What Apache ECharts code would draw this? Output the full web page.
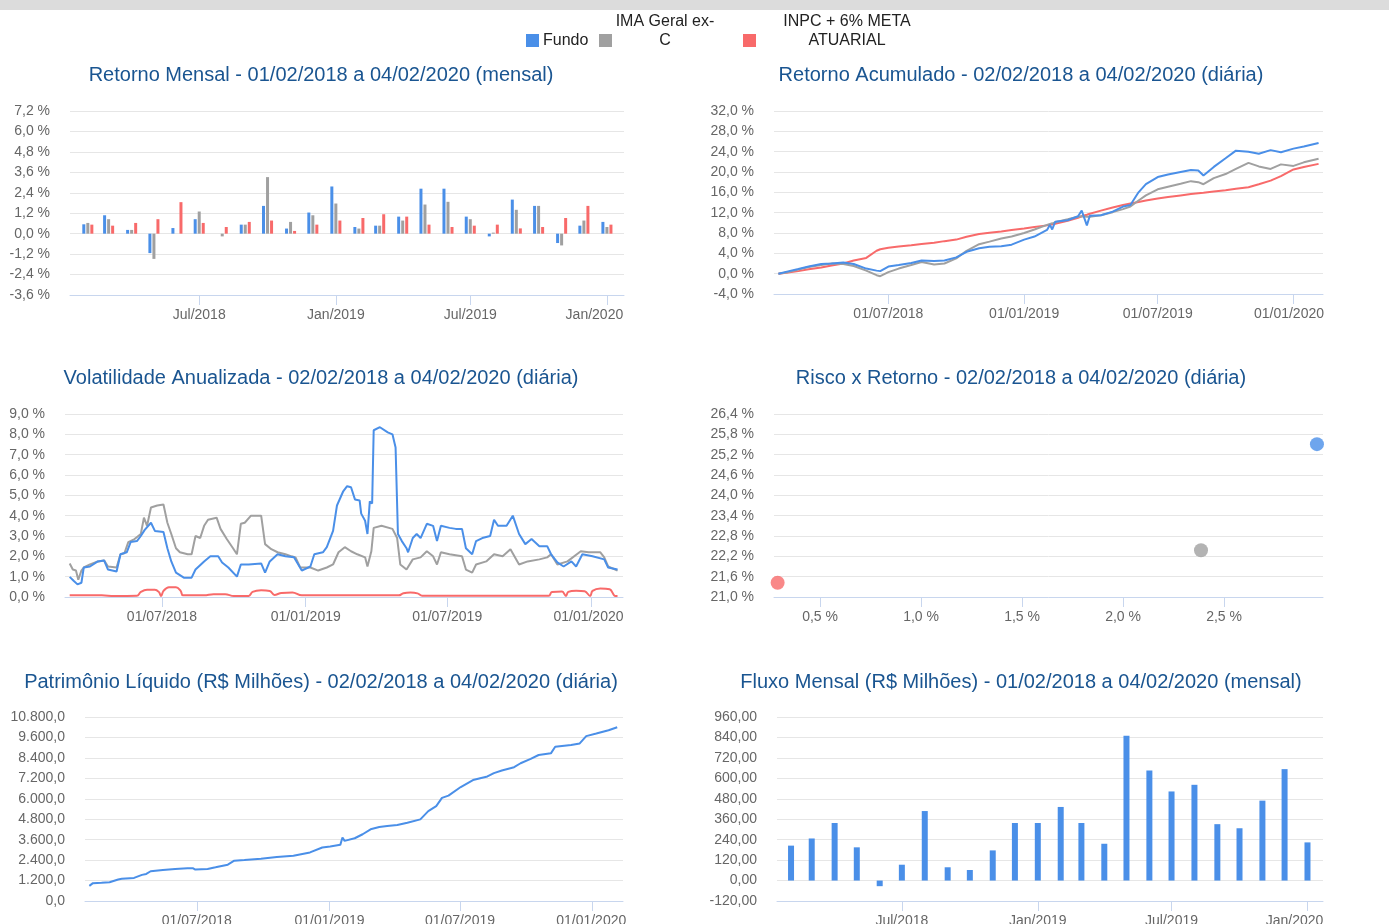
<!DOCTYPE html>
<html lang="pt-BR">
<head>
<meta charset="utf-8">
<title>Fundo - Painel de desempenho</title>
<script src="https://cdn.jsdelivr.net/npm/echarts@6/dist/echarts.min.js"></script>
<style>
    html, body { margin: 0; padding: 0; background: #fff; }
    #painel { width: 1389px; height: 924px; }
</style>
</head>
<body>
<div id="painel"></div>
<script type="text/javascript">
    // ---- dados ----
    var meses = ['2018-02-01', '2018-03-01', '2018-04-01', '2018-05-01', '2018-06-01', '2018-07-01',
        '2018-08-01', '2018-09-01', '2018-10-01', '2018-11-01', '2018-12-01', '2019-01-01',
        '2019-02-01', '2019-03-01', '2019-04-01', '2019-05-01', '2019-06-01', '2019-07-01',
        '2019-08-01', '2019-09-01', '2019-10-01', '2019-11-01', '2019-12-01', '2020-01-01'];
    var mensalFundo = [0.55, 1.08, 0.22, -1.14, 0.33, 0.85, 0, 0.53, 1.63, 0.3, 1.24, 2.77,
        0.39, 0.47, 1.0, 2.64, 2.64, 1.0, -0.16, 2.0, 1.63, -0.55, 0.47, 0.69];
    var mensalIma = [0.63, 0.85, 0.22, -1.48, 0, 1.3, -0.16, 0.53, 3.32, 0.69, 1.08, 1.77,
        0.3, 0.47, 0.77, 1.71, 1.87, 0.85, 0.06, 1.4, 1.63, -0.69, 0.77, 0.39];
    var mensalInpc = [0.53, 0.47, 0.63, 0.85, 1.85, 0.63, 0.39, 0.69, 0.77, 0.16, 0.53, 0.77,
        0.92, 1.14, 1.0, 0.53, 0.39, 0.47, 0.53, 0.31, 0.39, 0.92, 1.63, 0.53];

    var acumDatas = ['2018-02-02', '2018-02-15', '2018-03-01', '2018-03-15', '2018-04-01', '2018-04-15',
        '2018-05-01', '2018-05-15', '2018-06-01', '2018-06-15', '2018-06-20', '2018-07-01', '2018-07-15',
        '2018-08-01', '2018-08-15', '2018-09-01', '2018-09-15', '2018-10-01', '2018-10-15', '2018-11-01',
        '2018-11-15', '2018-12-01', '2018-12-15',
        '2019-01-01', '2019-01-15', '2019-02-01', '2019-02-05', '2019-02-08', '2019-02-12', '2019-03-01',
        '2019-03-15', '2019-03-20', '2019-03-27', '2019-03-31', '2019-04-15', '2019-05-01', '2019-05-15',
        '2019-05-25', '2019-06-05', '2019-06-15', '2019-07-01', '2019-07-15', '2019-08-01', '2019-08-15',
        '2019-08-25', '2019-09-01', '2019-09-15', '2019-10-01', '2019-10-15', '2019-11-01', '2019-11-15',
        '2019-12-01', '2019-12-15',
        '2020-01-01', '2020-01-15', '2020-02-04'];
    var acumFundo = [0.0, 0.45, 0.9, 1.4, 1.9, 2.0, 2.2, 1.9, 1.0, 0.6, 0.5, 1.4, 1.7, 2.1, 2.6, 2.5, 2.6,
        3.2, 4.3, 5.0, 5.3, 5.4, 5.7,
        6.7, 7.3, 8.6, 9.6, 8.7, 10.2, 10.5, 11.3, 12.4, 9.5, 11.4, 11.5, 12.2, 13.2, 13.5, 16.0, 17.6,
        19.0, 19.5, 20.0, 20.4, 20.3, 19.3, 21.0, 22.7, 24.2, 24.0, 23.6, 24.3, 23.9,
        24.6, 25.0, 25.7];
    var acumIma = [0.0, 0.3, 0.8, 1.3, 1.7, 2.0, 1.9, 1.5, 0.6, -0.3, -0.5, 0.3, 1.0, 1.7, 2.3, 1.8, 2.0,
        3.0, 4.5, 5.8, 6.3, 6.9, 7.3,
        8.0, 8.7, 9.6, 9.8, 9.9, 10.1, 10.7, 11.2, 11.3, 11.2, 11.2, 11.5, 12.1, 12.7, 13.2, 14.4, 15.4,
        16.6, 17.1, 17.7, 18.2, 18.0, 17.6, 18.8, 19.6, 20.6, 21.8, 21.1, 20.6, 21.5,
        21.2, 21.9, 22.6];
    var acumInpc = [0.0, 0.25, 0.5, 0.85, 1.2, 1.6, 2.0, 2.6, 3.1, 4.5, 4.8, 5.1, 5.35, 5.6, 5.85, 6.1, 6.4,
        6.7, 7.25, 7.8, 8.05, 8.3, 8.6,
        8.9, 9.2, 9.5, 9.6, 9.7, 9.8, 10.4, 11.0, 11.3, 11.6, 11.8, 12.4, 13.0, 13.5, 13.8, 14.1, 14.4,
        14.8, 15.1, 15.4, 15.65, 15.8, 15.9, 16.15, 16.4, 16.7, 17.0, 17.6, 18.3, 19.2,
        20.5, 21.0, 21.6];

    var volFundo = [['2018-03-05', 0.99], ['2018-03-10', 0.8], ['2018-03-15', 0.62], ['2018-03-20', 0.7],
        ['2018-03-23', 1.45], ['2018-03-31', 1.5], ['2018-04-10', 1.75], ['2018-04-18', 1.8], ['2018-04-23', 1.35],
        ['2018-05-04', 1.25], ['2018-05-09', 2.1], ['2018-05-17', 2.2], ['2018-05-22', 2.7], ['2018-05-30', 2.75],
        ['2018-06-04', 3.0], ['2018-06-09', 3.3], ['2018-06-17', 3.65], ['2018-06-22', 3.25], ['2018-07-03', 3.2],
        ['2018-07-08', 2.4], ['2018-07-13', 1.75], ['2018-07-19', 1.2], ['2018-07-29', 0.95], ['2018-08-08', 0.95],
        ['2018-08-13', 1.35], ['2018-08-24', 1.75], ['2018-09-01', 2.0], ['2018-09-11', 2.0], ['2018-09-16', 1.7],
        ['2018-09-24', 1.45], ['2018-10-05', 1.0], ['2018-10-10', 1.6], ['2018-10-20', 1.6], ['2018-11-05', 1.65],
        ['2018-11-10', 1.2], ['2018-11-16', 1.75], ['2018-11-26', 2.1], ['2018-12-06', 2.0], ['2018-12-17', 1.95],
        ['2018-12-27', 1.3], ['2019-01-07', 1.5], ['2019-01-12', 2.1], ['2019-01-23', 2.2], ['2019-01-28', 2.45],
        ['2019-02-05', 3.25], ['2019-02-10', 4.5], ['2019-02-18', 5.2], ['2019-02-23', 5.45], ['2019-02-28', 5.4],
        ['2019-03-05', 4.8], ['2019-03-11', 4.75], ['2019-03-13', 4.1], ['2019-03-18', 3.75], ['2019-03-21', 3.1],
        ['2019-03-24', 4.7], ['2019-03-27', 4.6], ['2019-03-29', 8.2], ['2019-04-06', 8.35], ['2019-04-16', 8.1],
        ['2019-04-22', 8.0], ['2019-04-26', 7.35], ['2019-04-29', 3.1], ['2019-05-04', 2.75], ['2019-05-10', 2.4],
        ['2019-05-12', 2.2], ['2019-05-18', 2.9], ['2019-05-23', 3.1], ['2019-05-28', 2.9], ['2019-06-05', 3.6],
        ['2019-06-13', 3.5], ['2019-06-18', 2.75], ['2019-06-23', 3.5], ['2019-07-04', 3.4], ['2019-07-12', 3.35],
        ['2019-07-20', 3.35], ['2019-07-25', 2.4], ['2019-08-02', 2.1], ['2019-08-07', 2.75], ['2019-08-15', 2.9],
        ['2019-08-25', 3.0], ['2019-08-30', 3.8], ['2019-09-04', 3.5], ['2019-09-15', 3.5], ['2019-09-23', 4.0],
        ['2019-10-01', 3.1], ['2019-10-09', 2.6], ['2019-10-17', 2.85], ['2019-10-27', 2.5], ['2019-11-06', 2.5],
        ['2019-11-11', 2.1], ['2019-11-19', 1.7], ['2019-11-27', 1.5], ['2019-12-07', 1.75], ['2019-12-13', 1.5],
        ['2019-12-21', 2.1], ['2020-01-03', 2.0], ['2020-01-18', 1.85], ['2020-01-23', 1.45], ['2020-02-04', 1.35]];
    var volIma = [['2018-03-05', 1.65], ['2018-03-09', 1.35], ['2018-03-13', 1.3], ['2018-03-16', 0.85],
        ['2018-03-20', 1.3], ['2018-03-23', 1.45], ['2018-03-31', 1.6], ['2018-04-10', 1.75], ['2018-04-18', 1.8],
        ['2018-04-23', 1.5], ['2018-05-04', 1.45], ['2018-05-09', 2.1], ['2018-05-14', 2.15], ['2018-05-19', 2.7],
        ['2018-05-27', 2.85], ['2018-06-04', 3.1], ['2018-06-08', 3.9], ['2018-06-12', 3.5], ['2018-06-17', 4.4],
        ['2018-06-25', 4.5], ['2018-07-03', 4.55], ['2018-07-08', 3.65], ['2018-07-13', 3.1], ['2018-07-19', 2.4],
        ['2018-07-24', 2.2], ['2018-08-03', 2.1], ['2018-08-08', 2.1], ['2018-08-13', 3.0], ['2018-08-19', 2.9],
        ['2018-08-24', 3.5], ['2018-08-29', 3.8], ['2018-09-09', 3.9], ['2018-09-14', 3.35], ['2018-09-22', 2.85],
        ['2018-09-30', 2.4], ['2018-10-05', 2.1], ['2018-10-10', 3.6], ['2018-10-15', 3.65], ['2018-10-23', 4.0],
        ['2018-11-05', 4.0], ['2018-11-10', 2.6], ['2018-11-18', 2.35], ['2018-11-26', 2.2], ['2018-12-06', 2.1],
        ['2018-12-14', 2.0], ['2018-12-19', 1.95], ['2018-12-25', 1.45], ['2019-01-07', 1.45], ['2019-01-17', 1.3],
        ['2019-01-28', 1.45], ['2019-02-05', 1.6], ['2019-02-12', 2.2], ['2019-02-20', 2.45], ['2019-02-28', 2.25],
        ['2019-03-08', 2.1], ['2019-03-18', 1.95], ['2019-03-21', 1.5], ['2019-03-26', 2.25], ['2019-03-29', 3.4],
        ['2019-04-08', 3.5], ['2019-04-22', 3.35], ['2019-04-28', 2.9], ['2019-05-02', 1.6], ['2019-05-10', 1.35],
        ['2019-05-18', 1.85], ['2019-05-28', 1.95], ['2019-06-05', 2.25], ['2019-06-13', 2.0], ['2019-06-18', 1.6],
        ['2019-06-23', 2.2], ['2019-07-04', 2.1], ['2019-07-20', 2.0], ['2019-07-25', 1.35], ['2019-08-02', 1.2],
        ['2019-08-07', 1.6], ['2019-08-20', 1.75], ['2019-08-30', 2.1], ['2019-09-10', 2.0], ['2019-09-20', 2.35],
        ['2019-10-01', 1.6], ['2019-10-12', 1.75], ['2019-10-27', 1.85], ['2019-11-06', 1.95], ['2019-11-11', 2.1],
        ['2019-11-19', 1.6], ['2019-12-02', 1.75], ['2019-12-19', 2.25], ['2019-12-29', 2.2], ['2020-01-13', 2.2],
        ['2020-01-18', 1.95], ['2020-01-23', 1.5], ['2020-02-04', 1.3]];
    var volInpc = [['2018-03-05', 0.08], ['2018-04-15', 0.08], ['2018-05-01', 0.05], ['2018-05-30', 0.06],
        ['2018-06-04', 0.25], ['2018-06-12', 0.36], ['2018-06-22', 0.36], ['2018-06-27', 0.25], ['2018-06-30', 0.05],
        ['2018-07-03', 0.3], ['2018-07-10', 0.48], ['2018-07-19', 0.48], ['2018-07-25', 0.3], ['2018-07-28', 0.08],
        ['2018-08-24', 0.08], ['2018-09-05', 0.14], ['2018-09-20', 0.14], ['2018-10-01', 0.05], ['2018-10-20', 0.05],
        ['2018-10-25', 0.25], ['2018-11-05', 0.33], ['2018-11-16', 0.3], ['2018-11-22', 0.1], ['2018-12-01', 0.2],
        ['2018-12-15', 0.22], ['2018-12-27', 0.08], ['2019-04-30', 0.08], ['2019-05-06', 0.18], ['2019-05-15', 0.22],
        ['2019-05-24', 0.18], ['2019-05-30', 0.06], ['2019-11-08', 0.06], ['2019-11-12', 0.25], ['2019-11-25', 0.27],
        ['2019-11-30', 0.05], ['2019-12-03', 0.25], ['2019-12-13', 0.31], ['2019-12-24', 0.28], ['2019-12-31', 0.05],
        ['2020-01-03', 0.3], ['2020-01-13', 0.42], ['2020-01-25', 0.38], ['2020-02-01', 0.05], ['2020-02-04', 0.05]];

    var riscoNomes = ['Fundo', 'IMA Geral ex-C', 'INPC + 6% META ATUARIAL'];
    var riscoVol = [2.96, 2.386, 0.29];
    var riscoRet = [25.51, 22.38, 21.42];

    var plFundo = [['2018-02-02', 890], ['2018-02-07', 1047], ['2018-02-19', 1066], ['2018-03-02', 1105],
        ['2018-03-14', 1260], ['2018-03-19', 1300], ['2018-04-05', 1357], ['2018-04-16', 1532], ['2018-04-22', 1590],
        ['2018-04-28', 1745], ['2018-05-15', 1823], ['2018-06-01', 1880], ['2018-06-18', 1920], ['2018-06-26', 1920],
        ['2018-06-29', 1842], ['2018-07-16', 1880], ['2018-07-27', 1978], ['2018-08-13', 2133], ['2018-08-22', 2366],
        ['2018-09-05', 2404], ['2018-09-28', 2482], ['2018-10-20', 2580], ['2018-11-12', 2656], ['2018-12-05', 2850],
        ['2018-12-22', 3141], ['2019-01-02', 3200], ['2019-01-16', 3296], ['2019-01-19', 3723], ['2019-01-22', 3530],
        ['2019-02-05', 3684], ['2019-02-16', 3917], ['2019-02-27', 4208], ['2019-03-11', 4343], ['2019-03-22', 4402],
        ['2019-04-05', 4460], ['2019-04-19', 4595], ['2019-05-07', 4790], ['2019-05-18', 5274], ['2019-05-29', 5565],
        ['2019-06-06', 6050], ['2019-06-15', 6185], ['2019-07-02', 6690], ['2019-07-19', 7097], ['2019-08-08', 7310],
        ['2019-08-17', 7504], ['2019-08-28', 7659], ['2019-09-14', 7853], ['2019-09-23', 8086], ['2019-10-07', 8338],
        ['2019-10-18', 8570], ['2019-11-04', 8667], ['2019-11-10', 9055], ['2019-12-02', 9152], ['2019-12-14', 9250],
        ['2019-12-23', 9676], ['2020-01-06', 9831], ['2020-01-23', 10025], ['2020-02-04', 10200]];

    var fluxoMensal = [205, 247, 338, 195, -33, 93, 408, 78, 62, 177, 338, 338,
        432, 338, 216, 850, 646, 523, 562, 331, 307, 469, 654, 224];

    var marcasMes = ['2018-07-01', '2019-01-01', '2019-07-01', '2020-01-01'];
    var marcasRisco = [0.5, 1.0, 1.5, 2.0, 2.5];
    // ---- /dados ----

    var AZUL = '#4a8fe8', CINZA = '#a0a0a0', VERMELHO = '#f86a6a';
    var TITULO = '#1a5591', ROTULO = '#666666', FONTE = '"Liberation Sans", Arial, sans-serif';
    var nomesMes = ['Jan', 'Fev', 'Mar', 'Abr', 'Mai', 'Jun', 'Jul', 'Ago', 'Set', 'Out', 'Nov', 'Dez'];

    function ts(s) {
        var p = s.split('-');
        return new Date(+p[0], +p[1] - 1, +p[2]).getTime();
    }
    function dois(n) { return (n < 10 ? '0' : '') + n; }
    function fmtMes(v) { var d = new Date(v); return nomesMes[d.getMonth()] + '/' + d.getFullYear(); }
    function fmtDia(v) { var d = new Date(v); return dois(d.getDate()) + '/' + dois(d.getMonth() + 1) + '/' + d.getFullYear(); }
    function fmtPct(v) { return v.toFixed(1).replace('.', ',') + ' %'; }
    function fmtMil(v) { return Math.round(v).toString().replace(/\B(?=(\d{3})+(?!\d))/g, '.') + ',0'; }
    function fmtFluxo(v) { return v.toFixed(2).replace('.', ','); }

    var marcas = marcasMes.map(ts);
    var ultima = marcas[marcas.length - 1];

    // eixo de datas: eixo de valores com timestamps e marcas fixas
    function eixoTempo(grid, ini, fim, fmt, folga) {
        return {
            type: 'value', gridIndex: grid, min: ts(ini), max: ts(fim), scale: true,
            axisLine: {onZero: false, lineStyle: {color: '#c8d6ee'}},
            axisTick: {show: true, length: 10, customValues: marcas, lineStyle: {color: '#c8d6ee'}},
            axisLabel: {
                customValues: marcas, margin: 13, color: ROTULO, fontSize: 14, fontFamily: FONTE,
                formatter: function (v) {
                    var s = fmt(v);
                    return v === ultima ? '{e|' + s + '}' : s;
                },
                rich: {e: {padding: [0, folga, 0, 0], color: ROTULO, fontSize: 14, fontFamily: FONTE}}
            },
            splitLine: {show: false}
        };
    }
    function eixoValor(grid, min, max, passo, fmt) {
        return {
            type: 'value', gridIndex: grid, min: min, max: max, interval: passo,
            axisLine: {show: false}, axisTick: {show: false},
            axisLabel: {margin: 20, color: ROTULO, fontSize: 14, fontFamily: FONTE, formatter: fmt},
            splitLine: {lineStyle: {color: '#e6e6e6'}}
        };
    }
    function titulo(x, y, texto) {
        return {type: 'text', x: x, y: y, silent: true,
            style: {text: texto, fill: TITULO, fontSize: 20, fontFamily: FONTE, align: 'center', verticalAlign: 'middle'}};
    }
    function comData(lista) { return lista.map(function (p) { return [ts(p[0]), p[1]]; }); }
    function linha(nome, cor, grid, dados, suave) {
        return {name: nome, type: 'line', xAxisIndex: grid, yAxisIndex: grid, data: comData(dados),
            showSymbol: false, smooth: suave || false, lineStyle: {color: cor, width: 2}, itemStyle: {color: cor}};
    }
    function barras(nome, cor, grid, valores, largura) {
        return {name: nome, type: 'bar', xAxisIndex: grid, yAxisIndex: grid, barWidth: largura, barGap: '34%',
            data: meses.map(function (m, i) { return [ts(m), valores[i]]; }), itemStyle: {color: cor}};
    }
    function pares(valores) { return acumDatas.map(function (d, i) { return [d, valores[i]]; }); }

    var painel = echarts.init(document.getElementById('painel'), null, {renderer: 'canvas'});
    var grade = {outerBoundsMode: 'none', containLabel: false};

    painel.setOption({
        animation: false,
        textStyle: {fontFamily: FONTE},
        grid: [
            Object.assign({left: 70, top: 111, width: 554, height: 184}, grade),
            Object.assign({left: 774, top: 111, width: 549, height: 183}, grade),
            Object.assign({left: 65, top: 414, width: 558, height: 183}, grade),
            Object.assign({left: 774, top: 414, width: 549, height: 183}, grade),
            Object.assign({left: 85, top: 717, width: 538, height: 184}, grade),
            Object.assign({left: 777, top: 717, width: 546, height: 184}, grade)
        ],
        xAxis: [
            eixoTempo(0, '2018-01-08', '2020-01-24', fmtMes, 25),
            eixoTempo(1, '2018-01-27', '2020-02-10', fmtDia, 9),
            eixoTempo(2, '2018-02-27', '2020-02-11', fmtDia, 5),
            {
                type: 'value', gridIndex: 3, min: 0.272, max: 2.99,
                axisLine: {onZero: false, lineStyle: {color: '#c8d6ee'}},
                axisTick: {show: true, length: 10, customValues: marcasRisco, lineStyle: {color: '#c8d6ee'}},
                axisLabel: {customValues: marcasRisco, margin: 13, color: ROTULO, fontSize: 14, fontFamily: FONTE, formatter: fmtPct},
                splitLine: {show: false}
            },
            eixoTempo(4, '2018-01-27', '2020-02-12', fmtDia, 3),
            eixoTempo(5, '2018-01-13', '2020-01-22', fmtMes, 26)
        ],
        yAxis: [
            eixoValor(0, -3.6, 7.2, 1.2, fmtPct),
            eixoValor(1, -4, 32, 4, fmtPct),
            eixoValor(2, 0, 9, 1, fmtPct),
            eixoValor(3, 21, 26.4, 0.6, fmtPct),
            eixoValor(4, 0, 10800, 1200, fmtMil),
            eixoValor(5, -120, 960, 120, fmtFluxo)
        ],
        graphic: [
            {type: 'rect', shape: {x: 0, y: 0, width: 1389, height: 10}, style: {fill: '#dcdcdc'}, silent: true},
            {type: 'rect', shape: {x: 526, y: 34, width: 13, height: 13}, style: {fill: AZUL}},
            {type: 'text', x: 543, y: 41, style: {text: 'Fundo', fill: '#222', fontSize: 16, fontFamily: FONTE, verticalAlign: 'middle'}},
            {type: 'rect', shape: {x: 599, y: 34, width: 13, height: 13}, style: {fill: CINZA}},
            {type: 'text', x: 665, y: 31, style: {text: 'IMA Geral ex-\nC', fill: '#222', fontSize: 16, lineHeight: 19, fontFamily: FONTE, align: 'center', verticalAlign: 'middle'}},
            {type: 'rect', shape: {x: 743, y: 34, width: 13, height: 13}, style: {fill: VERMELHO}},
            {type: 'text', x: 847, y: 31, style: {text: 'INPC + 6% META\nATUARIAL', fill: '#222', fontSize: 16, lineHeight: 19, fontFamily: FONTE, align: 'center', verticalAlign: 'middle'}},
            titulo(321, 75, 'Retorno Mensal - 01/02/2018 a 04/02/2020 (mensal)'),
            titulo(1021, 75, 'Retorno Acumulado - 02/02/2018 a 04/02/2020 (diária)'),
            titulo(321, 378, 'Volatilidade Anualizada - 02/02/2018 a 04/02/2020 (diária)'),
            titulo(1021, 378, 'Risco x Retorno - 02/02/2018 a 04/02/2020 (diária)'),
            titulo(321, 682, 'Patrimônio Líquido (R$ Milhões) - 02/02/2018 a 04/02/2020 (diária)'),
            titulo(1021, 682, 'Fluxo Mensal (R$ Milhões) - 01/02/2018 a 04/02/2020 (mensal)')
        ],
        series: [
            barras('Fundo', AZUL, 0, mensalFundo, 3),
            barras('IMA Geral ex-C', CINZA, 0, mensalIma, 3),
            barras('INPC + 6% META ATUARIAL', VERMELHO, 0, mensalInpc, 3),

            linha('INPC + 6% META ATUARIAL', VERMELHO, 1, pares(acumInpc)),
            linha('IMA Geral ex-C', CINZA, 1, pares(acumIma)),
            linha('Fundo', AZUL, 1, pares(acumFundo)),

            linha('INPC + 6% META ATUARIAL', VERMELHO, 2, volInpc, 0.4),
            linha('IMA Geral ex-C', CINZA, 2, volIma),
            linha('Fundo', AZUL, 2, volFundo),

            {
                name: 'Risco x Retorno', type: 'scatter', xAxisIndex: 3, yAxisIndex: 3, symbolSize: 14,
                data: riscoNomes.map(function (n, i) {
                    return {name: n, value: [riscoVol[i], riscoRet[i]], itemStyle: {color: [AZUL, CINZA, VERMELHO][i]}};
                })
            },

            linha('Fundo', AZUL, 4, plFundo),

            {
                name: 'Fluxo', type: 'bar', xAxisIndex: 5, yAxisIndex: 5, barWidth: 6,
                data: meses.map(function (m, i) { return [ts(m), fluxoMensal[i]]; }), itemStyle: {color: AZUL}
            }
        ]
    });
</script>
</body>
</html>
